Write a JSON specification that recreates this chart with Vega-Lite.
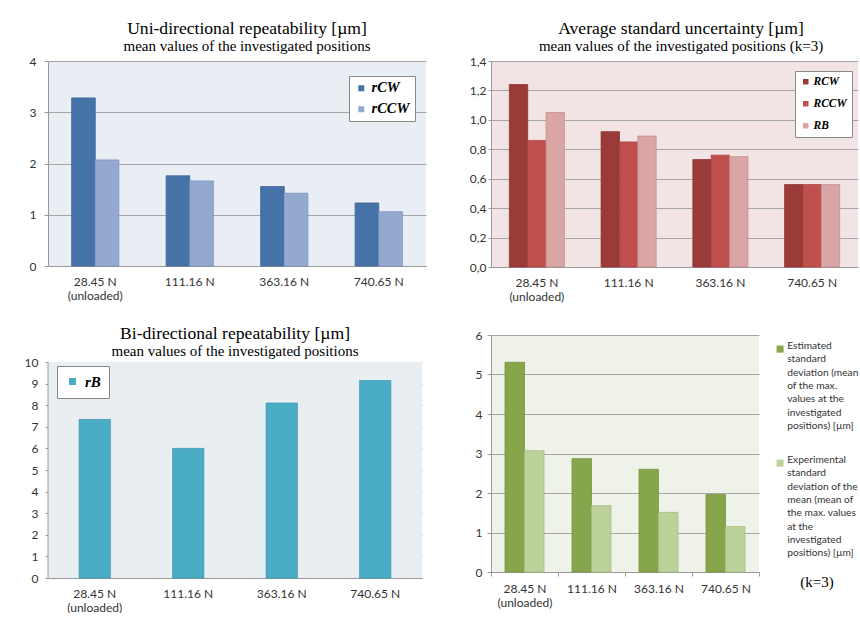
{
  "$schema": "https://vega.github.io/schema/vega-lite/v6.json",
  "padding": {"left": 24, "top": 20, "right": 0, "bottom": 0},
  "background": "white",
  "columns": 2,
  "bounds": "flush",
  "spacing": {"row": 68, "column": 65},
  "resolve": {
    "scale": {"x": "independent", "y": "independent", "xOffset": "independent", "color": "independent", "stroke": "independent"},
    "axis": {"x": "independent", "y": "independent"},
    "legend": {"color": "independent", "stroke": "independent"}
  },
  "config": {
    "font": "Lato",
    "view": {"stroke": null},
    "axis": {"labelFont": "Lato", "labelFontSize": 12, "labelColor": "#333333", "domainColor": "#9a9a9a", "tickColor": "#9a9a9a", "gridColor": "#a6a6a6", "gridWidth": 1, "domainWidth": 1, "labelLineHeight": 14},
    "axisX": {"labelAngle": 0, "ticks": false, "labelPadding": 10, "grid": false},
    "axisY": {"grid": true},
    "title": {"font": "Liberation Serif", "fontSize": 17.6, "fontWeight": "normal", "color": "#000000", "subtitleFont": "Liberation Serif", "subtitleFontSize": 15, "subtitleColor": "#000000", "subtitlePadding": 1, "offset": 1, "anchor": "middle", "frame": "group"},
    "legend": {"symbolType": "square", "symbolStrokeWidth": 0, "labelColor": "#000000"},
    "style": {"guide-label": {"lineHeight": 13.3}}
  },
  "datasets": {
    "p1": [
      {"cat": "28.45 N (unloaded)", "series": "rCW", "value": 3.28},
      {"cat": "28.45 N (unloaded)", "series": "rCCW", "value": 2.07},
      {"cat": "111.16 N", "series": "rCW", "value": 1.76},
      {"cat": "111.16 N", "series": "rCCW", "value": 1.66},
      {"cat": "363.16 N", "series": "rCW", "value": 1.55},
      {"cat": "363.16 N", "series": "rCCW", "value": 1.42},
      {"cat": "740.65 N", "series": "rCW", "value": 1.23},
      {"cat": "740.65 N", "series": "rCCW", "value": 1.06}
    ],
    "p2": [
      {"cat": "28.45 N (unloaded)", "series": "RCW", "value": 1.24},
      {"cat": "28.45 N (unloaded)", "series": "RCCW", "value": 0.86},
      {"cat": "28.45 N (unloaded)", "series": "RB", "value": 1.05},
      {"cat": "111.16 N", "series": "RCW", "value": 0.92},
      {"cat": "111.16 N", "series": "RCCW", "value": 0.85},
      {"cat": "111.16 N", "series": "RB", "value": 0.89},
      {"cat": "363.16 N", "series": "RCW", "value": 0.73},
      {"cat": "363.16 N", "series": "RCCW", "value": 0.76},
      {"cat": "363.16 N", "series": "RB", "value": 0.75},
      {"cat": "740.65 N", "series": "RCW", "value": 0.56},
      {"cat": "740.65 N", "series": "RCCW", "value": 0.56},
      {"cat": "740.65 N", "series": "RB", "value": 0.56}
    ],
    "p3": [
      {"cat": "28.45 N (unloaded)", "series": "rB", "value": 7.34},
      {"cat": "111.16 N", "series": "rB", "value": 6.0},
      {"cat": "363.16 N", "series": "rB", "value": 8.1},
      {"cat": "740.65 N", "series": "rB", "value": 9.14}
    ],
    "p4": [
      {"cat": "28.45 N (unloaded)", "series": "Estimated", "value": 5.31},
      {"cat": "28.45 N (unloaded)", "series": "Experimental", "value": 3.07},
      {"cat": "111.16 N", "series": "Estimated", "value": 2.87},
      {"cat": "111.16 N", "series": "Experimental", "value": 1.68},
      {"cat": "363.16 N", "series": "Estimated", "value": 2.6},
      {"cat": "363.16 N", "series": "Experimental", "value": 1.51},
      {"cat": "740.65 N", "series": "Estimated", "value": 1.96},
      {"cat": "740.65 N", "series": "Experimental", "value": 1.15}
    ]
  },
  "concat": [
    {
      "width": 378,
      "height": 205,
      "view": {"fill": "#E9EDF4"},
      "title": {"text": "Uni-directional repeatability [µm]", "subtitle": "mean values of the investigated positions", "dx": 10},
      "data": {"name": "p1"},
      "mark": {"type": "bar", "strokeWidth": 0.8},
      "encoding": {
        "x": {"field": "cat", "type": "nominal", "sort": null, "title": null,
              "scale": {"domain": ["28.45 N (unloaded)", "111.16 N", "363.16 N", "740.65 N"], "paddingInner": 0, "paddingOuter": 0},
              "axis": {"labelExpr": "datum.value == '28.45 N (unloaded)' ? ['28.45 N', '(unloaded)'] : datum.label"}},
        "xOffset": {"field": "series", "type": "nominal", "sort": null, "scale": {"domain": ["rCW", "rCCW"], "paddingInner": 0, "paddingOuter": 1.49}},
        "y": {"field": "value", "type": "quantitative", "title": null,
              "scale": {"domain": [0, 4], "nice": false},
              "axis": {"values": [0, 1, 2, 3, 4], "tickSize": 4, "labelPadding": 8}},
        "color": {"field": "series", "type": "nominal", "sort": null,
                  "scale": {"domain": ["rCW", "rCCW"], "range": ["#4572A7", "#93A9CF"]},
                  "legend": {"title": null, "orient": "none", "legendX": 301, "legendY": 15, "strokeColor": "#888888", "fillColor": "#ffffff", "padding": 5, "symbolSize": 36, "labelOffset": 3, "rowPadding": 6, "labelFont": "Liberation Serif", "labelFontSize": 14.5, "labelFontStyle": "italic", "labelFontWeight": "bold"}},
        "stroke": {"field": "series", "type": "nominal", "legend": null,
                   "scale": {"domain": ["rCW", "rCCW"], "range": ["#3C659A", "#7D95C2"]}}
      }
    },
    {
      "width": 367,
      "height": 206,
      "view": {"fill": "#F2E4E4"},
      "title": {"text": "Average standard uncertainty [µm]", "subtitle": "mean values of the investigated positions (k=3)", "dx": 6.5},
      "data": {"name": "p2"},
      "mark": {"type": "bar", "strokeWidth": 0.8},
      "encoding": {
        "x": {"field": "cat", "type": "nominal", "sort": null, "title": null,
              "scale": {"domain": ["28.45 N (unloaded)", "111.16 N", "363.16 N", "740.65 N"], "paddingInner": 0, "paddingOuter": 0},
              "axis": {"labelExpr": "datum.value == '28.45 N (unloaded)' ? ['28.45 N', '(unloaded)'] : datum.label"}},
        "xOffset": {"field": "series", "type": "nominal", "sort": null, "scale": {"domain": ["RCW", "RCCW", "RB"], "paddingInner": 0, "paddingOuter": 1.48}},
        "y": {"field": "value", "type": "quantitative", "title": null,
              "scale": {"domain": [0, 1.4], "nice": false},
              "axis": {"values": [0, 0.2, 0.4, 0.6, 0.8, 1.0, 1.2, 1.4], "tickSize": 3, "labelPadding": 2, "labelExpr": "replace(format(datum.value, '.1f'), '.', ',')"}},
        "color": {"field": "series", "type": "nominal", "sort": null,
                  "scale": {"domain": ["RCW", "RCCW", "RB"], "range": ["#9B3B39", "#C0504D", "#D9A5A5"]},
                  "legend": {"title": null, "orient": "none", "legendX": 304, "legendY": 10, "strokeColor": "#888888", "fillColor": "#ffffff", "padding": 5, "symbolSize": 30, "labelOffset": 2, "rowPadding": 9, "labelFont": "Liberation Serif", "labelFontSize": 11.5, "labelFontStyle": "italic", "labelFontWeight": "bold"}},
        "stroke": {"field": "series", "type": "nominal", "legend": null,
                   "scale": {"domain": ["RCW", "RCCW", "RB"], "range": ["#8C3432", "#A94442", "#C58E8E"]}}
      }
    },
    {
      "width": 374,
      "height": 243,
      "title": {"text": "Bi-directional repeatability [µm]", "subtitle": "mean values of the investigated positions", "offset": -24, "dx": 0},
      "layer": [
        {
          "data": {"values": [{"lo": 0, "hi": 10}]},
          "mark": {"type": "rect", "color": "#E8EEF2"},
          "encoding": {
            "y": {"field": "lo", "type": "quantitative", "title": null, "scale": {"domain": [0, 11.25], "nice": false},
                  "axis": {"values": [0, 1, 2, 3, 4, 5, 6, 7, 8, 9, 10], "domain": false, "tickSize": 3, "labelPadding": 7, "labelOverlap": false}},
            "y2": {"field": "hi"}
          }
        },
        {
          "data": {"values": [{"lo": 0, "hi": 10, "cat": "28.45 N (unloaded)"}]},
          "mark": {"type": "rule", "color": "#9a9a9a"},
          "encoding": {
            "x": {"field": "cat", "type": "nominal", "title": null, "bandPosition": 0,
                  "scale": {"domain": ["28.45 N (unloaded)", "111.16 N", "363.16 N", "740.65 N"], "paddingInner": 0, "paddingOuter": 0},
                  "axis": {"labelExpr": "datum.value == '28.45 N (unloaded)' ? ['28.45 N', '(unloaded)'] : datum.label"}},
            "y": {"field": "lo", "type": "quantitative", "title": null, "scale": {"domain": [0, 11.25], "nice": false},
                  "axis": {"values": [0, 1, 2, 3, 4, 5, 6, 7, 8, 9, 10], "domain": false, "tickSize": 3, "labelPadding": 7, "labelOverlap": false}},
            "y2": {"field": "hi"}
          }
        },
        {
          "data": {"name": "p3"},
          "mark": {"type": "bar", "strokeWidth": 0.8},
          "encoding": {
            "x": {"field": "cat", "type": "nominal", "sort": null, "title": null,
                  "scale": {"domain": ["28.45 N (unloaded)", "111.16 N", "363.16 N", "740.65 N"], "paddingInner": 0, "paddingOuter": 0},
                  "axis": {"labelExpr": "datum.value == '28.45 N (unloaded)' ? ['28.45 N', '(unloaded)'] : datum.label"}},
            "xOffset": {"field": "series", "type": "nominal", "scale": {"domain": ["rB"], "paddingInner": 0, "paddingOuter": 1.448}},
            "y": {"field": "value", "type": "quantitative", "title": null,
                  "scale": {"domain": [0, 11.25], "nice": false},
                  "axis": {"values": [0, 1, 2, 3, 4, 5, 6, 7, 8, 9, 10], "domain": false, "tickSize": 3, "labelPadding": 7, "labelOverlap": false}},
            "color": {"field": "series", "type": "nominal",
                      "scale": {"domain": ["rB"], "range": ["#4BACC6"]},
                      "legend": {"title": null, "orient": "none", "legendX": 9, "legendY": 31, "strokeColor": "#888888", "fillColor": "#ffffff", "padding": 8, "symbolSize": 49, "labelOffset": 5, "labelFont": "Liberation Serif", "labelFontSize": 15, "labelFontStyle": "italic", "labelFontWeight": "bold"}},
            "stroke": {"field": "series", "type": "nominal", "legend": null,
                       "scale": {"domain": ["rB"], "range": ["#3A98B2"]}}
          }
        }
      ]
    },
    {
      "width": 268,
      "height": 237,
      "view": {"fill": "#EFF2E8"},
      "data": {"name": "p4"},
      "mark": {"type": "bar", "strokeWidth": 0.8},
      "encoding": {
        "x": {"field": "cat", "type": "nominal", "sort": null, "title": null,
              "scale": {"domain": ["28.45 N (unloaded)", "111.16 N", "363.16 N", "740.65 N"], "paddingInner": 0, "paddingOuter": 0},
              "axis": {"ticks": true, "tickBand": "extent", "tickSize": 4, "labelPadding": 7, "labelExpr": "datum.value == '28.45 N (unloaded)' ? ['28.45 N', '(unloaded)'] : datum.label"}},
        "xOffset": {"field": "series", "type": "nominal", "sort": null, "scale": {"domain": ["Estimated", "Experimental"], "paddingInner": 0, "paddingOuter": 0.718}},
        "y": {"field": "value", "type": "quantitative", "title": null,
              "scale": {"domain": [0, 6], "nice": false},
              "axis": {"values": [0, 1, 2, 3, 4, 5, 6], "tickSize": 4, "labelPadding": 5}},
        "color": {"field": "series", "type": "nominal", "sort": null,
                  "scale": {"domain": ["Estimated", "Experimental"], "range": ["#87A64B", "#BDD29A"]},
                  "legend": {"title": "(k=3)", "titleOrient": "bottom", "titleFont": "Liberation Serif", "titleFontSize": 15, "titleFontWeight": "normal", "titleColor": "#000000", "titleAnchor": "middle", "titlePadding": 17,
                             "orient": "none", "legendX": 284, "legendY": 9, "padding": 0, "symbolSize": 49, "labelOffset": 2, "rowPadding": 23, "labelFont": "Lato", "labelFontSize": 10.2, "labelColor": "#333333", "labelBaseline": "alphabetic", "labelLimit": 200,
                             "labelExpr": "datum.label == 'Estimated' ? ['Estimated', 'standard', 'deviation (mean', 'of the max.', 'values at the', 'investigated', 'positions) [µm]'] : ['Experimental', 'standard', 'deviation of the', 'mean  (mean of', 'the max. values', 'at the', 'investigated', 'positions) [µm]']"}},
        "stroke": {"field": "series", "type": "nominal", "legend": null,
                   "scale": {"domain": ["Estimated", "Experimental"], "range": ["#76933D", "#A6BE80"]}}
      }
    }
  ]
}
